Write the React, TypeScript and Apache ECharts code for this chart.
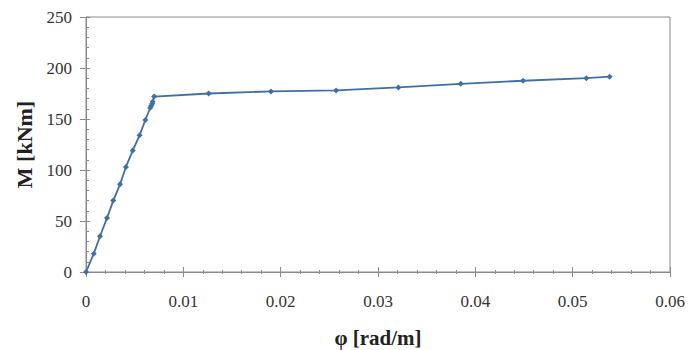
import React, { useEffect, useRef } from "react";
import * as echarts from "echarts";

const phi = [0, 0.0008, 0.00144, 0.00216, 0.0028, 0.0035, 0.0041, 0.0048, 0.0055, 0.0061, 0.0066, 0.0067, 0.0068, 0.00685, 0.007, 0.0126, 0.019, 0.0257, 0.0321, 0.0385, 0.0449, 0.0514, 0.0538];
const moment = [0, 18, 35, 53, 70, 86, 103, 119, 134, 149, 161, 163, 165, 167, 172, 175, 177, 178, 181, 184.5, 187.5, 190, 191.5];
const xTicks = [0, 0.01, 0.02, 0.03, 0.04, 0.05, 0.06];
const yTicks = [0, 50, 100, 150, 200, 250];

export default function App() {
  const ref = useRef<HTMLDivElement>(null);
  useEffect(() => {
    const chart = echarts.init(ref.current!, null, { renderer: "svg" });
    const font = "Liberation Serif, serif";
    const axisColor = "#8a8a8a";
    const xBase = {
      type: "value",
      min: xTicks[0],
      max: xTicks[xTicks.length - 1],
      interval: 0.01,
      position: "bottom",
      splitLine: { show: false },
    };
    const yBase = {
      type: "value",
      min: yTicks[0],
      max: yTicks[yTicks.length - 1],
      interval: 50,
      position: "left",
      splitLine: { show: false },
    };
    chart.setOption({
      animation: false,
      backgroundColor: "#ffffff",
      grid: { left: 86, right: 19, top: 17, bottom: 78, outerBoundsMode: "none", containLabel: false, show: true, borderColor: axisColor, borderWidth: 1, backgroundColor: "transparent" },
      xAxis: [
        {
          ...xBase,
          name: "φ [rad/m]",
          nameLocation: "middle",
          nameGap: 55,
          nameTextStyle: { fontFamily: font, fontSize: 21, fontWeight: "bold", color: "#222" },
          axisLine: { lineStyle: { color: axisColor, width: 1 } },
          axisTick: { show: true, length: 5, lineStyle: { color: axisColor } },
          minorTick: { show: true, splitNumber: 5, length: 2, lineStyle: { color: axisColor } },
          axisLabel: { fontFamily: font, fontSize: 17, color: "#333", margin: 21, formatter: (v: number) => String(+v.toFixed(2)) },
        },
        {
          ...xBase,
          axisLine: { show: false },
          axisTick: { show: true, length: -5, lineStyle: { color: axisColor } },
          minorTick: { show: true, splitNumber: 5, length: -2, lineStyle: { color: axisColor } },
          axisLabel: { show: false },
        },
      ],
      yAxis: [
        {
          ...yBase,
          name: "M [kNm]",
          nameLocation: "middle",
          nameGap: 51,
          nameRotate: 90,
          nameTextStyle: { fontFamily: font, fontSize: 22, fontWeight: "bold", color: "#222" },
          axisLine: { show: true, lineStyle: { color: axisColor, width: 1 } },
          axisTick: { show: true, length: 6, lineStyle: { color: axisColor } },
          minorTick: { show: false },
          axisLabel: { fontFamily: font, fontSize: 17, color: "#333", margin: 14 },
        },
        {
          ...yBase,
          axisLine: { show: false },
          axisTick: { show: true, length: -4, lineStyle: { color: axisColor } },
          minorTick: { show: true, splitNumber: 5, length: -3, lineStyle: { color: axisColor } },
          axisLabel: { show: false },
        },
      ],
      series: [
        {
          type: "line",
          xAxisIndex: 0,
          yAxisIndex: 0,
          data: phi.map((p, i) => [p, moment[i]]),
          symbol: "diamond",
          symbolSize: 6,
          lineStyle: { color: "#3f6fa6", width: 1.8 },
          itemStyle: { color: "#3f6fa6" },
        },
      ],
    });
    return () => chart.dispose();
  }, []);
  return <div ref={ref} style={{ width: 689, height: 350, position: "absolute", left: 0, top: 0 }} />;
}
